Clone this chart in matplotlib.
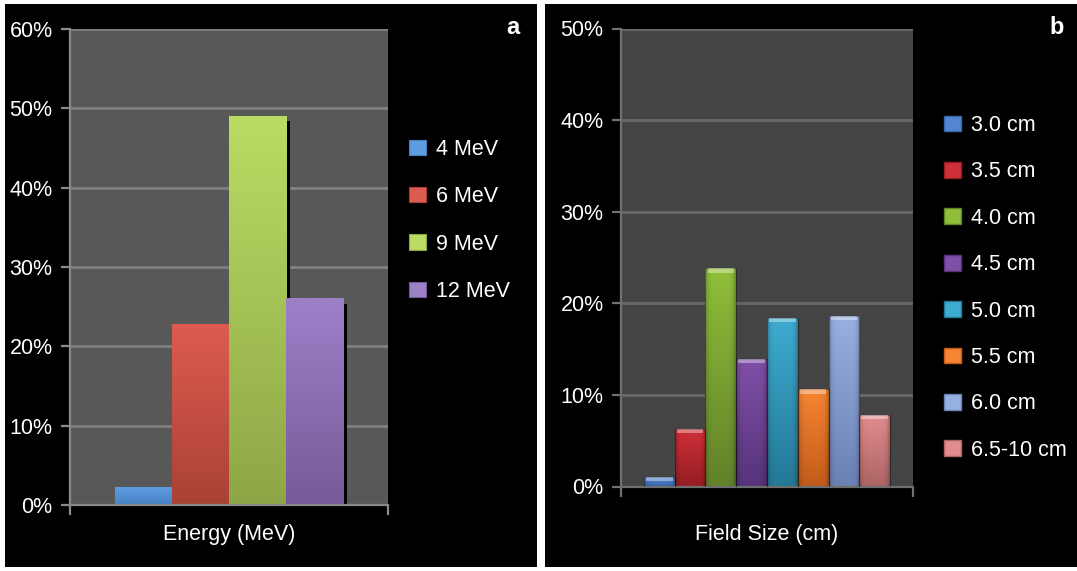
import numpy as np
import matplotlib
matplotlib.use("Agg")
import matplotlib.pyplot as plt
import matplotlib.transforms as mtransforms
from matplotlib.patches import Rectangle, Patch
from matplotlib.colors import to_rgb

# ---- data -------------------------------------------------------------
energy_labels = ["4 MeV", "6 MeV", "9 MeV", "12 MeV"]
energy_pct = [2.2, 22.8, 49.0, 26.0]
energy_ticks = [0, 10, 20, 30, 40, 50, 60]

field_labels = ["3.0 cm", "3.5 cm", "4.0 cm", "4.5 cm",
                "5.0 cm", "5.5 cm", "6.0 cm", "6.5-10 cm"]
field_pct = [1.0, 6.3, 23.8, 13.9, 18.4, 10.6, 18.6, 7.8]
field_ticks = [0, 10, 20, 30, 40, 50]

# ---- colours ----------------------------------------------------------
energy_top = ["#5e9ce2", "#dd5b51", "#badb64", "#9c81c9"]
energy_bottom = ["#4882c4", "#aa4135", "#8ea746", "#785a99"]

field_top = ["#5386d2", "#cf2f37", "#8fbe3a", "#8050a8",
             "#3eabd0", "#f58532", "#96b0e2", "#e28c8c"]
field_bottom = ["#3a63a8", "#951d24", "#62822a", "#56337a",
                "#237896", "#c25b1b", "#6a82b3", "#ad6464"]

W, H, DPI = 1077, 571, 100
FS = 15.5
plt.rcParams["font.family"] = ["Liberation Sans", "DejaVu Sans"]

fig = plt.figure(figsize=(W / DPI, H / DPI), dpi=DPI, facecolor="white")


def px_rect(x0, y0, x1, y1):
    """Figure-fraction [left, bottom, width, height] from pixel edges."""
    return [x0 / W, 1 - y1 / H, (x1 - x0) / W, (y1 - y0) / H]


# black panels behind each chart
for x0, x1 in [(5, 537), (545, 1077)]:
    l, b, w, h = px_rect(x0, 4, x1, 567)
    fig.add_artist(Rectangle((l, b), w, h, transform=fig.transFigure,
                             facecolor="black", edgecolor="none", zorder=-5))


def gradient_fill(ax, patch, top, bottom, zorder, edge_dark=0.0):
    x0, w, h = patch.get_x(), patch.get_width(), patch.get_height()
    t = np.linspace(0, 1, 64)[:, None, None]
    c_top, c_bot = np.array(to_rgb(top)), np.array(to_rgb(bottom))
    img = c_bot + (c_top - c_bot) * t
    u = np.linspace(-1, 1, 40)
    shade = 1 - edge_dark * np.abs(u) ** 6
    img = np.clip(img * shade[None, :, None], 0, 1)
    ax.imshow(img, extent=[x0, x0 + w, 0, h], origin="lower",
              aspect="auto", interpolation="bilinear", zorder=zorder)


def style_axes(ax, bg, grid, spine, ticks, ymax):
    ax.set_facecolor(bg)
    ax.set_ylim(0, ymax)
    ax.set_yticks(ticks)
    ax.set_yticklabels([f"{t}%" for t in ticks])
    ax.yaxis.grid(True, color=grid, lw=2.0)
    ax.set_axisbelow(True)
    for s in ["top", "right"]:
        ax.spines[s].set_visible(False)
    for s in ["left", "bottom"]:
        ax.spines[s].set_color(spine)
        ax.spines[s].set_linewidth(1.6)
    xmin, xmax = ax.get_xlim()
    ax.set_xticks([xmin, xmax])
    ax.set_xticklabels([])
    ax.tick_params(axis="x", length=7.5, width=1.6, color=spine)
    ax.tick_params(axis="y", length=6.5, width=1.6, color=spine,
                   labelsize=FS, labelcolor="white", pad=6)


# ---- panel a: energy --------------------------------------------------
axa = fig.add_axes(px_rect(70, 29, 388, 505))
xa = np.arange(len(energy_pct))
axa.set_xlim(-0.5 - 0.78, len(xa) - 0.5 + 0.78)

shadow = mtransforms.offset_copy(axa.transData, fig=fig, x=4, y=-5, units="dots")
axa.bar(xa, energy_pct, width=1.0, color="black", transform=shadow,
        zorder=1.5, linewidth=0)
bars_a = axa.bar(xa, energy_pct, width=1.0, facecolor="none",
                 edgecolor="none", zorder=3)
for p, ct, cb in zip(bars_a, energy_top, energy_bottom):
    gradient_fill(axa, p, ct, cb, zorder=2)
axa.set_xlim(-0.5 - 0.78, len(xa) - 0.5 + 0.78)
style_axes(axa, "#575857", "#7f7f7f", "#8a8a8a", energy_ticks, 60)
axa.set_xlabel("Energy (MeV)", color="white", fontsize=FS, labelpad=3)

handles_a = [Patch(facecolor=ct, edgecolor=cb, lw=0.8)
             for ct, cb in zip(energy_top, energy_bottom)]
axa.legend(handles_a, energy_labels, loc="upper left",
           bbox_to_anchor=(409 / W, 1 - 139 / H), bbox_transform=fig.transFigure,
           frameon=False, fontsize=FS, labelcolor="white",
           handlelength=0.8, handleheight=0.7, handletextpad=0.45,
           labelspacing=1.22, borderpad=0, borderaxespad=0)
fig.text(513 / W, 1 - 27 / H, "a", color="white", fontsize=17,
         fontweight="bold", ha="center", va="center")

# ---- panel b: field size ----------------------------------------------
axb = fig.add_axes(px_rect(621, 28.5, 913, 486.5))
xb = np.arange(len(field_pct))
axb.set_xlim(-0.5 - 0.745, len(xb) - 0.5 + 0.745)

bars_b = axb.bar(xb, field_pct, width=1.0, facecolor="none",
                 edgecolor=(0, 0, 0, 0.35), linewidth=0.8, zorder=3)
for p, ct, cb in zip(bars_b, field_top, field_bottom):
    gradient_fill(axb, p, ct, cb, zorder=2, edge_dark=0.25)

# glossy bevel along the top of each bar
cap_vals = np.array(field_pct)
cap_h = np.minimum(0.45, cap_vals * 0.5)
axb.bar(xb, cap_h, bottom=cap_vals - cap_h,
        width=0.86, color="white", alpha=0.38, linewidth=0, zorder=4)

axb.set_xlim(-0.5 - 0.745, len(xb) - 0.5 + 0.745)
style_axes(axb, "#434443", "#686868", "#707070", field_ticks, 50)
axb.set_xlabel("Field Size (cm)", color="white", fontsize=FS, labelpad=16)

handles_b = [Patch(facecolor=ct, edgecolor=cb, lw=1.0)
             for ct, cb in zip(field_top, field_bottom)]
axb.legend(handles_b, field_labels, loc="upper left",
           bbox_to_anchor=(944 / W, 1 - 115 / H), bbox_transform=fig.transFigure,
           frameon=False, fontsize=FS, labelcolor="white",
           handlelength=0.8, handleheight=0.75, handletextpad=0.45,
           labelspacing=1.18, borderpad=0, borderaxespad=0)
fig.text(1057 / W, 1 - 27 / H, "b", color="white", fontsize=17,
         fontweight="bold", ha="center", va="center")

fig.savefig("out.png", dpi=DPI, facecolor="white")
